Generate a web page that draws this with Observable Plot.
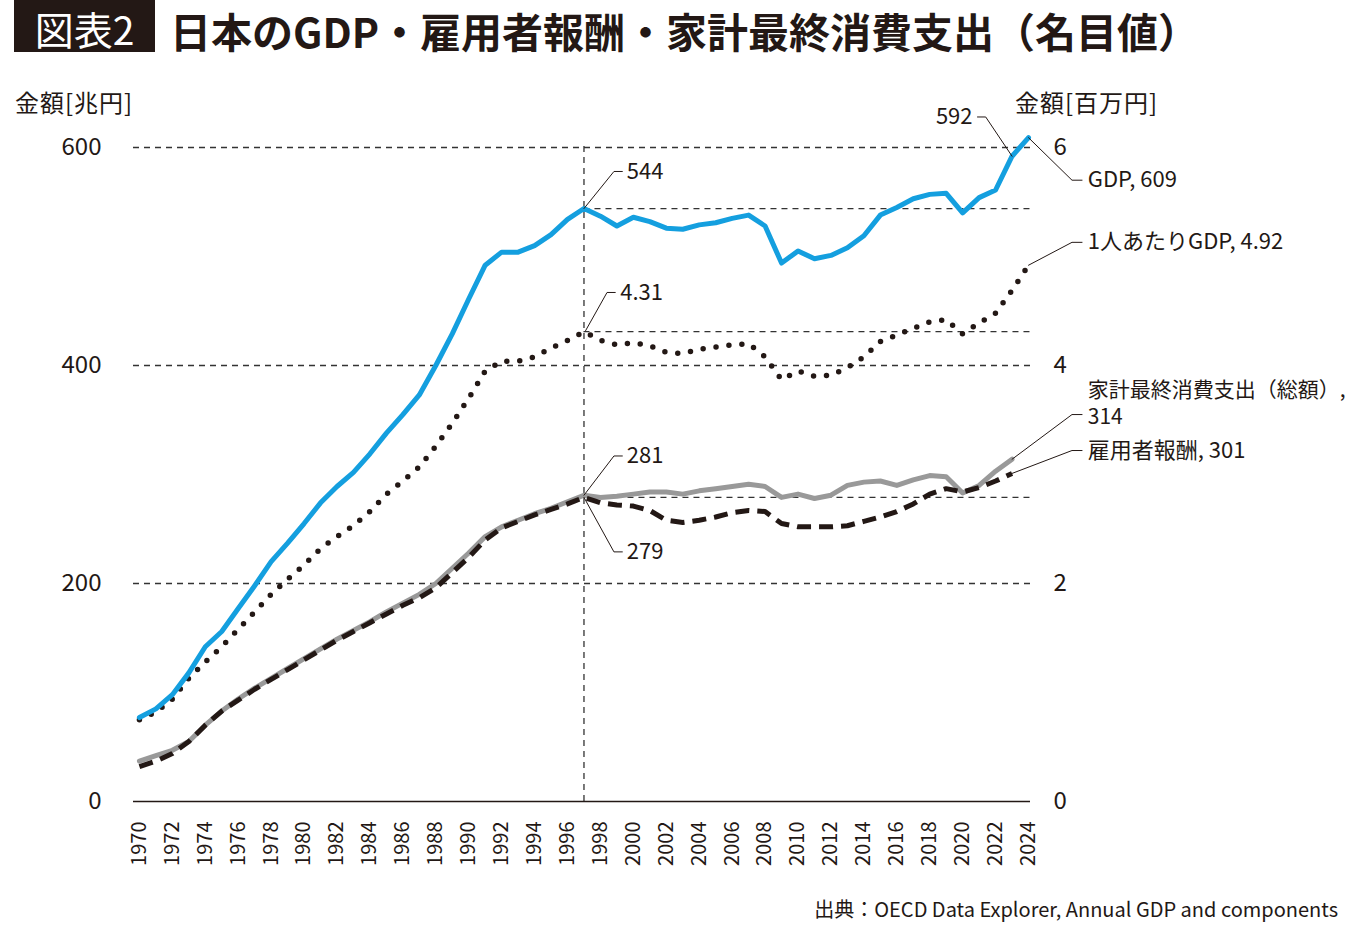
<!DOCTYPE html>
<html><head><meta charset="utf-8">
<script src="https://cdn.jsdelivr.net/npm/d3@7"></script>
<script src="https://cdn.jsdelivr.net/npm/@observablehq/plot@0.6"></script>
<style>
body{margin:0;background:#fff;}
#wrap{position:relative;width:1348px;height:928px;overflow:hidden;font-family:"Noto Sans CJK JP",sans-serif;color:#231815;}
#badgebg{position:absolute;left:14px;top:0;width:141px;height:52px;background:#231815;}
#badge{position:absolute;left:14px;top:0;width:141px;color:#fff;font-size:39px;line-height:normal;text-align:center;white-space:nowrap;}
#title{position:absolute;left:170px;top:0;line-height:normal;font-size:41px;font-weight:700;white-space:nowrap;}
.hdr{position:absolute;top:86px;font-size:24px;line-height:32px;letter-spacing:1px;white-space:nowrap;}
#chart{position:absolute;left:0;top:60px;}
#src{position:absolute;right:10px;top:895px;font-size:20px;line-height:28px;white-space:nowrap;}
</style></head>
<body>
<div id="wrap">
  <div id="badgebg"></div>
  <div id="badge">図表2</div>
  <div id="title">日本のGDP・雇用者報酬・家計最終消費支出（名目値）</div>
  <div class="hdr" style="left:15px">金額[兆円]</div>
  <div class="hdr" style="left:1015px">金額[百万円]</div>
  <div id="chart"></div>
  <div id="src">出典：OECD Data Explorer, Annual GDP and components</div>
</div>
<script>
// ---- data ----
const years = d3.range(1970, 2025);
const gdp = [77,85,98,118,142,156,177,198,220,237,
  255,274,289,302,319,338,355,373,400,429,
  461,492,504,504,510,520,534,544,537,528,
  536,532,526,525,529,531,535,538,528,494,
  505,498,501,508,519,538,545,553,557,558,
  540,554,561,592,609];
const gdpPerCapita = [0.75,0.82,0.94,1.13,1.28,1.42,1.58,1.74,1.90,2.04,
  2.17,2.32,2.43,2.53,2.66,2.82,2.94,3.07,3.26,3.47,
  3.70,3.95,4.04,4.04,4.08,4.16,4.23,4.31,4.23,4.19,
  4.21,4.18,4.12,4.11,4.15,4.17,4.19,4.20,4.08,3.87,
  3.95,3.90,3.91,3.98,4.08,4.22,4.28,4.34,4.40,4.42,
  4.29,4.39,4.48,4.69,4.92];
const consumption = [37,42,47,55,70,83,94,104,113,122,
  131,140,149,157,165,174,182,190,200,214,
  228,243,252,258,264,269,275,281,279,280,
  282,284,284,282,285,287,289,291,289,279,
  282,278,281,290,293,294,290,295,299,298,
  283,290,303,314];
const compensation = [32,37,44,55,70,83,93,103,112,121,
  130,139,148,156,164,172,180,187,196,210,
  224,240,251,257,263,268,273,279,274,272,
  271,267,258,256,258,261,265,267,266,255,
  252,252,252,253,257,261,266,273,282,287,
  284,288,294,301];
const leftTicks = [0, 200, 400, 600];
const xTicks = d3.range(1970, 2025, 2);
const refValues = [544, 431, 279];
const refYear = 1997;

// annotation leaders (data coordinates) and labels
const leaders = [
  {id:"a544", pts:[[1997,544],[1998.82,578],[1999.33,578]]},
  {id:"a431", pts:[[1997.1,432],[1998.4,467],[1998.9,467]]},
  {id:"a281", pts:[[1997,281],[1998.82,317],[1999.33,317]]},
  {id:"a279", pts:[[1997,279],[1998.82,229],[1999.33,229]]},
  {id:"a592", pts:[[2023,592],[2021.4,628],[2020.9,628]]},
  {id:"a609", pts:[[2024,609],[2026.64,570],[2027.25,570]]},
  {id:"a492", pts:[[2024,492],[2026.64,513],[2027.25,513]]},
  {id:"a314", pts:[[2023,314],[2026.64,355],[2027.25,355]]},
  {id:"a301", pts:[[2023,301],[2026.64,322],[2027.25,322]]}
];
const labelsStart = [
  {x:1999.6, y:578, text:"544"},
  {x:1999.2, y:467, text:"4.31"},
  {x:1999.6, y:317, text:"281"},
  {x:1999.6, y:229, text:"279"},
  {x:2027.6, y:570, text:"GDP, 609"},
  {x:2027.6, y:513, text:"1人あたりGDP, 4.92"},
  {x:2027.6, y:321.5, text:"雇用者報酬, 301"}
];
const labelsEnd = [
  {x:2020.6, y:628, text:"592"}
];
const labelsTwoLine = [
  {x:2027.6, y:367, text:"家計最終消費支出（総額）,\n314"}
];

// ---- tables ----
const rows = (arr) => arr.map((v, i) => ({year: years[i], value: v}));
const gdpRows = rows(gdp);
const pcRows = rows(gdpPerCapita);
const conRows = rows(consumption);
const comRows = rows(compensation);
const leaderRows = leaders.flatMap(l => l.pts.map(p => ({id: l.id, x: p[0], y: p[1]})));

const INK = "#231815";
const jp = "Noto Sans CJK JP, sans-serif";
const narrow = "Liberation Sans Narrow, Arial Narrow, Noto Sans CJK JP, sans-serif";
const dash = {stroke: "#333", strokeWidth: 1.3, strokeDasharray: "6,5"};

const chart = Plot.plot({
  width: 1348, height: 830,
  marginLeft: 133, marginRight: 318, marginTop: 87, marginBottom: 89,
  x: {domain: [1969.64, 2024.12]},
  y: {domain: [0, 600]},
  style: {fontFamily: jp, color: INK, background: "transparent", overflow: "visible"},
  marks: [
    Plot.ruleY([200, 400, 600], dash),
    Plot.ruleY(refValues, {y: d => d, x1: refYear, x2: 2024.12, ...dash}),
    Plot.ruleX([refYear], {y1: 0, y2: 605, ...dash}),
    Plot.ruleY([0], {stroke: INK, strokeWidth: 1.5}),
    Plot.line(conRows, {x: "year", y: "value", stroke: "#999999", strokeWidth: 5}),
    Plot.line(comRows, {x: "year", y: "value", stroke: INK, strokeWidth: 5, strokeDasharray: "14,8", strokeLinecap: "butt"}),
    Plot.line(pcRows, {x: "year", y: d => d.value * 100, stroke: INK, strokeWidth: 5.5, strokeDasharray: "0,13", strokeLinecap: "round"}),
    Plot.line(gdpRows, {x: "year", y: "value", stroke: "#149fdf", strokeWidth: 5, strokeLinejoin: "round"}),
    Plot.line(leaderRows, {x: "x", y: "y", z: "id", stroke: INK, strokeWidth: 1}),
    Plot.text(labelsStart, {x: "x", y: "y", text: "text", textAnchor: "start", fontSize: 22, fill: INK, fontFamily: jp}),
    Plot.text(labelsEnd, {x: "x", y: "y", text: "text", textAnchor: "end", fontSize: 22, fill: INK, fontFamily: jp}),
    Plot.text(labelsTwoLine, {x: "x", y: "y", text: "text", textAnchor: "start", lineAnchor: "middle", lineHeight: 1.29, fontSize: 21, fill: INK, fontFamily: jp}),
    Plot.axisY({anchor: "left", ticks: leftTicks, tickSize: 0, tickPadding: 32, fontSize: 24, fontFamily: jp, label: null}),
    Plot.axisY({anchor: "right", ticks: leftTicks, tickFormat: d => d / 100, tickSize: 0, tickPadding: 23, fontSize: 24, fontFamily: jp, label: null}),
    Plot.axisX({ticks: xTicks, tickFormat: d => String(d), tickRotate: -90, tickSize: 0, tickPadding: 20, fontSize: 20, fontFamily: narrow, label: null})
  ]
});
document.getElementById("chart").appendChild(chart);
</script>
</body></html>
